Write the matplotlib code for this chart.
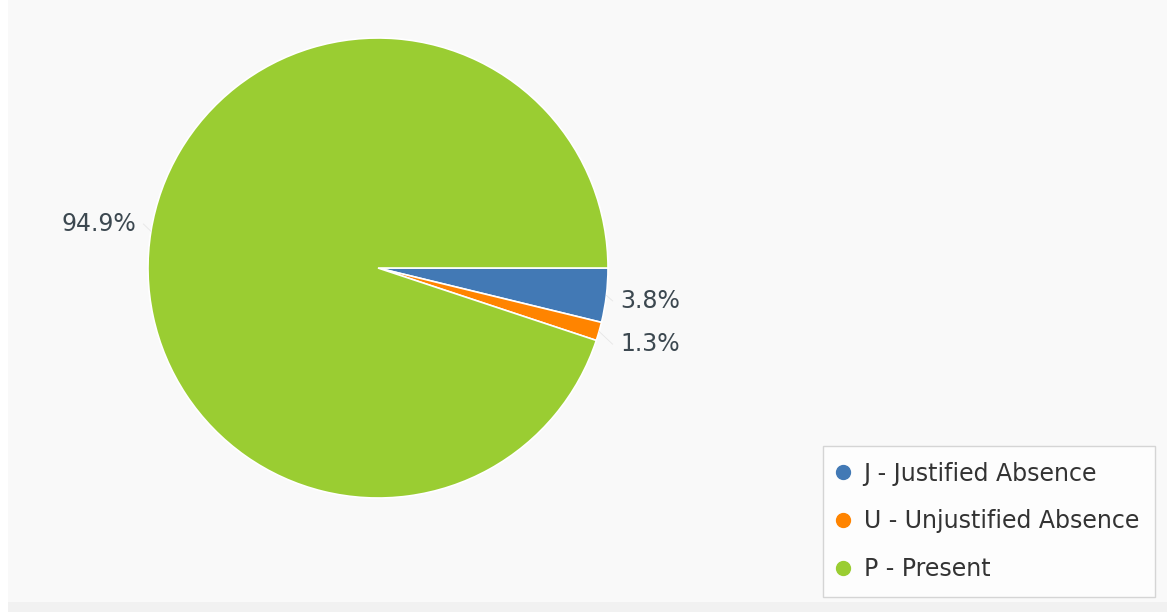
import numpy as np
import matplotlib.pyplot as plt
from matplotlib.lines import Line2D
from matplotlib.patches import Rectangle

# datos del grafico
categorias = ['J - Justified Absence', 'U - Unjustified Absence', 'P - Present']
valores = [3.8, 1.3, 94.9]
colores = ['#4279b5', '#ff8400', '#9acd32']

fondo = '#f9f9f9'
color_texto = '#3c4850'

W, H = 1167, 612
fig = plt.figure(figsize=(W / 100, H / 100), dpi=100, facecolor='white')
# fondo del area del grafico (borde blanco a la izquierda, franja gris abajo)
fig.patches.append(Rectangle((8 / W, 0), 1 - 8 / W, 10 / H, transform=fig.transFigure,
                             facecolor='#f1f1f1', edgecolor='none', zorder=-2))
fig.patches.append(Rectangle((8 / W, 10 / H), 1 - 8 / W, 1 - 10 / H, transform=fig.transFigure,
                             facecolor=fondo, edgecolor='none', zorder=-2))

# eje cuadrado para el pie (centro ~ (378,268) px, radio ~230 px)
ax = fig.add_axes([148 / W, (H - 498) / H, 460 / W, 460 / H])
ax.patch.set_visible(False)

wedges, _ = ax.pie(valores, colors=colores, startangle=0, counterclock=False,
                   radius=1.0, wedgeprops=dict(edgecolor='white', linewidth=1.2))
ax.set_xlim(-1, 1)
ax.set_ylim(-1, 1)
ax.set_aspect('equal')
ax.axis('off')

# etiquetas de porcentaje afuera, estilo highcharts
for w, v in zip(wedges, valores):
    th = np.deg2rad((w.theta1 + w.theta2) / 2)
    c, s = np.cos(th), np.sin(th)
    lado = 1 if c >= 0 else -1
    ytxt = 1.2 * s
    xtxt = lado * 1.052
    ax.plot([c, lado * 1.02], [s, ytxt], color='#e6e6e6', lw=0.6, clip_on=False)
    ax.text(xtxt, ytxt, f'{v}%', ha='left' if lado > 0 else 'right', va='center',
            fontsize=17, color=color_texto, clip_on=False)

# leyenda
handles = [Line2D([], [], marker='o', ls='none', markersize=10, color=col)
           for col in colores]
leg = fig.legend(handles, categorias, loc='lower right',
                 bbox_to_anchor=(1155 / W, 15 / H), bbox_transform=fig.transFigure,
                 frameon=True, fancybox=False, fontsize=17, labelspacing=1.0,
                 handletextpad=0.65, handlelength=0.4, borderpad=0.68, borderaxespad=0)
leg.get_frame().set_edgecolor('#cccccc')
leg.get_frame().set_facecolor('white')
leg.get_frame().set_linewidth(1.0)
for t in leg.get_texts():
    t.set_color('#333333')

plt.savefig('out.png', dpi=100, facecolor='white')
